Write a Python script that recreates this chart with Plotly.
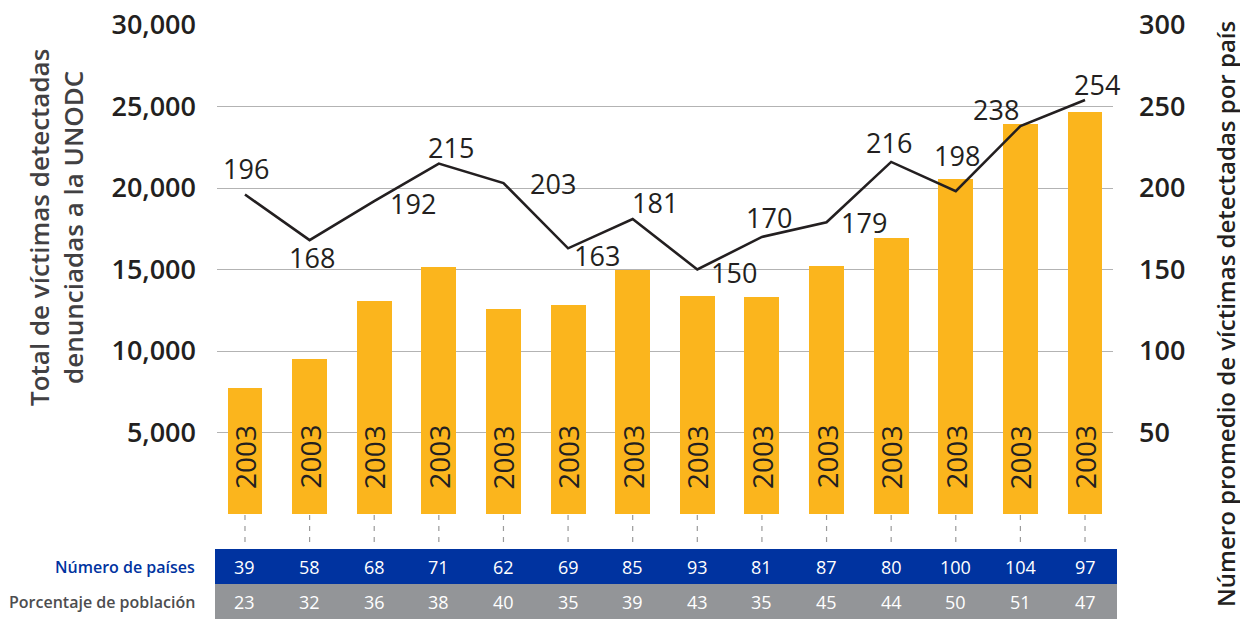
import plotly.graph_objects as go

# ---- data ----
bar_labels = ["2003", "2003", "2003", "2003", "2003", "2003", "2003",
              "2003", "2003", "2003", "2003", "2003", "2003", "2003"]
total_victims = [7700, 9500, 13050, 15150, 12550, 12850, 15000,
                 13350, 13300, 15200, 16950, 20550, 23950, 24650]
avg_per_country = [196, 168, 192, 215, 203, 163, 181, 150, 170, 179, 216, 198, 238, 254]
num_countries = [39, 58, 68, 71, 62, 69, 85, 93, 81, 87, 80, 100, 104, 97]
pop_share = [23, 32, 36, 38, 40, 35, 39, 43, 35, 45, 44, 50, 51, 47]
left_ticks = [5000, 10000, 15000, 20000, 25000, 30000]
right_ticks = [50, 100, 150, 200, 250, 300]

# ---- style ----
FONT = "Open Sans"
DARK = "#231f20"
BAR_COLOR = "#FBB51D"
BLUE = "#0033A0"
GREY = "#939598"
# label offsets (px) for the line value labels: (xshift, yshift)
label_offsets = [(1, 26), (2, -17), (39, -2), (12, 16), (50, 0), (29, -7), (22, 16),
                 (37, -3), (7, 19), (37, 0), (-2, 19), (1, 36), (-24, 17), (12, 15)]

W, H = 1240, 619
ML, MR, MT, MB = 217, 127, 25, 105
plot_h = H - MT - MB
plot_w = W - ML - MR

def py(pix):
    """pixel y (from top) -> paper y"""
    return (H - MB - pix) / plot_h

def px(pix):
    """pixel x (from left) -> paper x"""
    return (pix - ML) / plot_w

xs = list(range(len(total_victims)))

fig = go.Figure()
fig.add_trace(go.Bar(x=xs, y=total_victims, marker_color=BAR_COLOR, width=0.54,
                     hoverinfo="y", showlegend=False))
fig.add_trace(go.Scatter(x=xs, y=avg_per_country, yaxis="y2", mode="lines",
                         line=dict(color=DARK, width=2.6), showlegend=False))

annotations = []
# bar labels
for i, t in enumerate(bar_labels):
    annotations.append(dict(x=xs[i], y=0, xref="x", yref="y", text=t, textangle=-90,
                            showarrow=False, yanchor="bottom", xanchor="center", yshift=23,
                            font=dict(family=FONT, size=28, color=DARK, weight=500)))
# line labels
for i, v in enumerate(avg_per_country):
    dx, dy = label_offsets[i]
    annotations.append(dict(x=xs[i], y=v, xref="x", yref="y2", text=str(v),
                            showarrow=False, xshift=dx, yshift=dy,
                            xanchor="center", yanchor="middle",
                            font=dict(family=FONT, size=27, color=DARK, weight=500)))
# table values
for i in xs:
    annotations.append(dict(x=i, y=py(566.5), xref="x", yref="paper", text=str(num_countries[i]),
                            showarrow=False, xanchor="center", yanchor="middle",
                            font=dict(family=FONT, size=18, color="white", weight=500)))
    annotations.append(dict(x=i, y=py(601.5), xref="x", yref="paper", text=str(pop_share[i]),
                            showarrow=False, xanchor="center", yanchor="middle",
                            font=dict(family=FONT, size=18, color="white", weight=500)))
# table row labels
annotations.append(dict(x=px(197), y=py(566.5), xref="paper", yref="paper", xanchor="right",
                        yanchor="middle", text="Número de países", showarrow=False,
                        font=dict(family=FONT, size=16, color=BLUE, weight=600)))
annotations.append(dict(x=px(197), y=py(601.5), xref="paper", yref="paper", xanchor="right",
                        yanchor="middle", text="Porcentaje de población", showarrow=False,
                        font=dict(family=FONT, size=16, color="#4d4d4f", weight=600)))
# axis titles
annotations.append(dict(x=px(56), y=py(228), xref="paper", yref="paper",
                        xanchor="center", yanchor="middle",
                        text="Total de víctimas detectadas<br>denunciadas a la UNODC",
                        textangle=-90, showarrow=False,
                        font=dict(family=FONT, size=26, color="#414042", weight=600)))
annotations.append(dict(x=px(1225), y=py(314), xref="paper", yref="paper",
                        xanchor="center", yanchor="middle",
                        text="Número promedio de víctimas detectadas por país",
                        textangle=-90, showarrow=False,
                        font=dict(family=FONT, size=24, color=DARK, weight=600)))

shapes = []
# table bands
shapes.append(dict(type="rect", xref="paper", yref="paper", x0=px(215), x1=px(1117),
                   y0=py(584), y1=py(549), fillcolor=BLUE, line=dict(width=0), layer="below"))
shapes.append(dict(type="rect", xref="paper", yref="paper", x0=px(215), x1=px(1117),
                   y0=py(619), y1=py(584), fillcolor=GREY, line=dict(width=0), layer="below"))
# dashed category ticks
for i in xs:
    shapes.append(dict(type="line", xref="x", yref="paper", x0=i, x1=i, y0=py(515), y1=py(544),
                       line=dict(color="#9a9a9a", width=1.2, dash="5px,6px")))

fig.update_layout(
    template="none",
    width=W, height=H,
    margin=dict(l=ML, r=MR, t=MT, b=MB, pad=0, autoexpand=False),
    plot_bgcolor="white", paper_bgcolor="white",
    bargap=0,
    xaxis=dict(range=[-0.433, 13.433], showticklabels=False, showgrid=False, zeroline=False,
               ticks="", showline=False, fixedrange=True, automargin=False),
    yaxis=dict(range=[0, 30000], tickvals=left_ticks, ticktext=[f"{v:,}" for v in left_ticks],
               showgrid=True, gridcolor="#b3b3b3", gridwidth=1.3, zeroline=False, ticks="",
               showline=False, ticklabelstandoff=20, automargin=False,
               tickfont=dict(family=FONT, size=27, color=DARK, weight=600)),
    yaxis2=dict(range=[0, 300], overlaying="y", side="right", tickvals=right_ticks,
                showgrid=False, zeroline=False, ticks="", showline=False,
                ticklabelstandoff=25, automargin=False,
                tickfont=dict(family=FONT, size=27, color=DARK, weight=600)),
    annotations=annotations,
    shapes=shapes,
    showlegend=False,
)

fig.write_html("out.html", config={"displayModeBar": False},
               post_script="document.body.style.margin='0px';document.body.style.overflow='hidden';")
